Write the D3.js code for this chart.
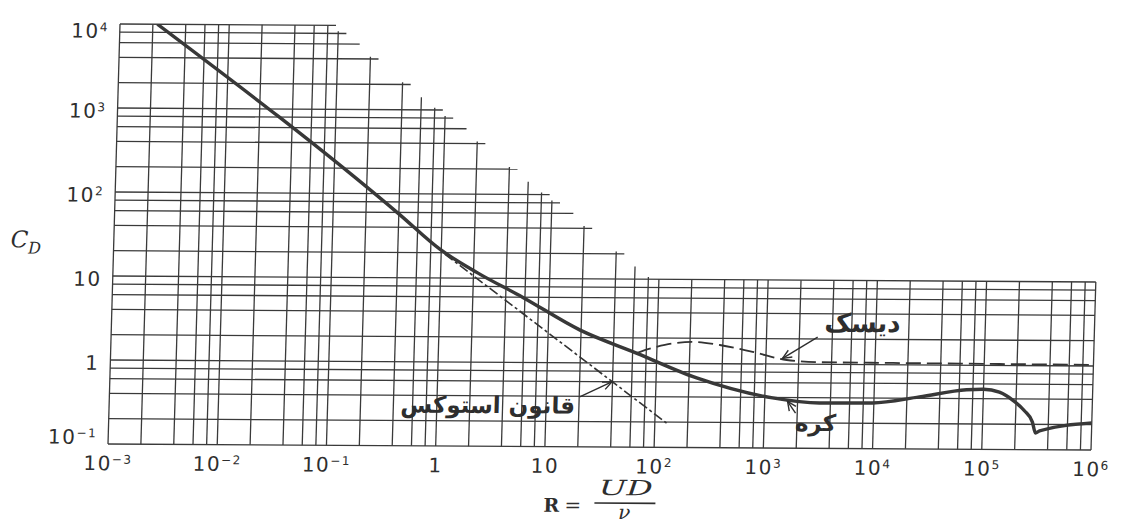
<!DOCTYPE html>
<html>
<head>
<meta charset="utf-8">
<script src="https://cdn.jsdelivr.net/npm/d3@7"></script>
<style>
  html, body { margin: 0; padding: 0; background: #fff; }
  svg { display: block; }
</style>
</head>
<body>
<svg id="chart"></svg>
<script>
// values (Re, Cd)
const sphereRe = [0.0022, 0.41, 0.97, 2.2, 5.7, 19.4, 65, 235, 1180, 3180, 9700, 26000, 70000, 100000, 140000, 190000, 240000, 286000, 307000, 334000, 1000000];
const sphereCd = [10000, 56, 22, 11.5, 6.0, 2.47, 1.32, 0.675, 0.395, 0.346, 0.35, 0.416, 0.51, 0.52, 0.48, 0.38, 0.29, 0.213, 0.158, 0.167, 0.21];

const diskRe = [65, 118, 211, 375, 754, 1550, 3110, 16800, 138000, 1000000];
const diskCd = [1.32, 1.66, 1.81, 1.67, 1.39, 1.12, 1.06, 1.05, 1.04, 1.03];

const stokesRe = [1.08, 128];
const stokesCd = [19.3, 0.195];

const xTicks = [1e-3, 1e-2, 1e-1, 1, 10, 1e2, 1e3, 1e4, 1e5, 1e6];
const yTicks = [1e-1, 1, 10, 1e2, 1e3, 1e4];
const gridSteps = [1, 2, 4, 6, 8];

// annotations: text, label centre, leader start, leader tip (data units)
const noteText = ['قانون استوکس', 'دیسک', 'کره'];
const noteAt = [[2.93, 0.31], [7520, 3.13], [2960, 0.20]];
const noteFrom = [[20.2, 0.393], [2940, 2.11], [1930, 0.262]];
const noteTo = [[39.4, 0.596], [1420, 1.17], [1620, 0.36]];

const W = 1121, H = 525;
const ink = '#2e2e2e';

const svg = d3.select('#chart').attr('width', W).attr('height', H);

// the printed page is slightly sheared in the scan
const root = svg.append('g')
    .attr('transform', 'matrix(1,0.0061,-0.02857,1,12.69,-0.66)');

const x = d3.scaleLog().domain([1e-3, 1e6]).range([108, 1091]);
const y = d3.scaleLog().domain([0.1, 1e4]).range([444, 24]);

// grid values 1,2,4,6,8 x 10^k
let gridVals = [];
for (let k = -3; k <= 6; k++) {
  gridSteps.forEach(m => gridVals.push(+(m * Math.pow(10, k)).toPrecision(3)));
}
const xGrid = gridVals.filter(v => v >= 1e-3 && v <= 1e6);
const yGrid = gridVals.filter(v => v >= 0.1 && v <= 1e4);

// staircase shaped grid: lines stop along a diagonal above the curve
const reachV = 850, reachH = 950;
const vTop = re => Math.min(1e4, Math.max(10, reachV / re));
const hEnd = cd => cd <= 10 ? 1e6 : Math.min(1e6, reachH / cd);

const grid = root.append('g')
    .attr('stroke', '#3a3a3a')
    .attr('stroke-width', 1.3)
    .attr('fill', 'none');

grid.selectAll('.vgrid')
  .data(xGrid)
  .join('line')
    .attr('class', 'vgrid')
    .attr('x1', d => x(d))
    .attr('x2', d => x(d))
    .attr('y1', y(0.1))
    .attr('y2', d => y(vTop(d)));

grid.selectAll('.hgrid')
  .data(yGrid)
  .join('line')
    .attr('class', 'hgrid')
    .attr('x1', x(1e-3))
    .attr('x2', d => x(hEnd(d)))
    .attr('y1', d => y(d))
    .attr('y2', d => y(d));

// curves
root.append('clipPath').attr('id', 'plotClip')
  .append('rect')
    .attr('x', x(1e-3)).attr('y', y(1e4))
    .attr('width', x(1e6) - x(1e-3)).attr('height', y(0.1) - y(1e4));

const line = d3.line()
    .x(d => x(d[0]))
    .y(d => y(d[1]))
    .curve(d3.curveMonotoneX);

const curves = root.append('g').attr('clip-path', 'url(#plotClip)').attr('fill', 'none');

curves.append('path')
    .datum(d3.zip(stokesRe, stokesCd))
    .attr('d', line)
    .attr('stroke', '#333')
    .attr('stroke-width', 1.6)
    .attr('stroke-dasharray', '10,3,3,3');

curves.append('path')
    .datum(d3.zip(diskRe, diskCd))
    .attr('d', line)
    .attr('stroke', '#333')
    .attr('stroke-width', 1.8)
    .attr('stroke-dasharray', '15,6');

curves.append('path')
    .datum(d3.zip(sphereRe, sphereCd))
    .attr('d', line)
    .attr('stroke', '#383838')
    .attr('stroke-width', 3.4)
    .attr('stroke-linejoin', 'round');

// tick labels as powers of ten
function powLabel(sel) {
  sel.each(function(d) {
    const t = d3.select(this).text(null);
    const e = Math.round(Math.log10(d));
    if (e === 0) { t.append('tspan').text('1'); return; }
    t.append('tspan').text('10');
    if (e !== 1) {
      t.append('tspan')
          .attr('dy', '-0.55em')
          .attr('font-size', '12px')
          .text(e < 0 ? '\u2212' + (-e) : e);
    }
  });
}

const xAxis = root.append('g')
    .attr('transform', `translate(0,${y(0.1)})`)
    .call(d3.axisBottom(x).tickValues(xTicks).tickSize(0).tickPadding(12));
xAxis.select('.domain').remove();
xAxis.selectAll('text')
    .attr('font-family', 'DejaVu Sans')
    .attr('font-size', '20px')
    .attr('letter-spacing', '1.5px')
    .attr('fill', ink)
    .call(powLabel);

const yAxis = root.append('g')
    .attr('transform', `translate(${x(1e-3)},0)`)
    .call(d3.axisLeft(y).tickValues(yTicks).tickSize(0).tickPadding(11));
yAxis.select('.domain').remove();
yAxis.selectAll('text')
    .attr('font-family', 'DejaVu Sans')
    .attr('font-size', '20px')
    .attr('letter-spacing', '1.5px')
    .attr('fill', ink)
    .attr('y', d => d === 1e4 ? 7 : d === 0.1 ? -7 : 3)
    .call(powLabel);

// axis titles
const cd = root.append('text')
    .attr('x', 5).attr('y', 248)
    .attr('font-family', 'DejaVu Serif')
    .attr('font-style', 'italic')
    .attr('font-size', '23px')
    .attr('fill', ink)
    .text('C');
cd.append('tspan').attr('dy', 6).attr('font-size', '16px').text('D');

const xt = root.append('g').attr('fill', ink).attr('font-family', 'DejaVu Serif');
xt.append('text').attr('x', 545).attr('y', 509)
    .attr('font-weight', 'bold').attr('font-size', '19px').text('R');
xt.append('text').attr('x', 566).attr('y', 509)
    .attr('font-size', '20px').text('=');
xt.append('text').attr('x', 600).attr('y', 492)
    .attr('font-style', 'italic').attr('font-size', '21px')
    .attr('textLength', 54).attr('lengthAdjust', 'spacingAndGlyphs').text('UD');
xt.append('line').attr('x1', 596).attr('x2', 657).attr('y1', 500).attr('y2', 500)
    .attr('stroke', ink).attr('stroke-width', 1.6);
xt.append('text').attr('x', 620).attr('y', 516)
    .attr('font-style', 'italic').attr('font-size', '20px').text('ν');

// annotations with leader arrows
root.append('defs').append('marker')
    .attr('id', 'tip')
    .attr('viewBox', '-10 -5 11 10')
    .attr('refX', 0).attr('refY', 0)
    .attr('markerWidth', 11).attr('markerHeight', 10)
    .attr('markerUnits', 'userSpaceOnUse')
    .attr('orient', 'auto')
    .style('overflow', 'visible')
  .append('path')
    .attr('d', 'M-9,-4L0,0L-9,4')
    .attr('fill', 'none')
    .attr('stroke', ink)
    .attr('stroke-width', 1.4);

const notes = root.append('g');
notes.selectAll('.leader')
  .data(noteFrom)
  .join('line')
    .attr('class', 'leader')
    .attr('x1', d => x(d[0])).attr('y1', d => y(d[1]))
    .attr('x2', (d, i) => x(noteTo[i][0])).attr('y2', (d, i) => y(noteTo[i][1]))
    .attr('stroke', ink)
    .attr('stroke-width', 1.4)
    .attr('marker-end', 'url(#tip)');

notes.selectAll('.note')
  .data(noteText)
  .join('text')
    .attr('class', 'note')
    .attr('x', (d, i) => x(noteAt[i][0]))
    .attr('y', (d, i) => y(noteAt[i][1]))
    .attr('text-anchor', 'middle')
    .attr('dominant-baseline', 'central')
    .attr('direction', 'rtl')
    .attr('font-family', 'DejaVu Sans')
    .attr('font-weight', 'bold')
    .attr('font-size', (d, i) => i === 1 ? '26px' : '23px')
    .attr('letter-spacing', (d, i) => i === 1 ? '4px' : '1px')
    .attr('fill', ink)
    .text(d => d);
</script>
</body>
</html>
